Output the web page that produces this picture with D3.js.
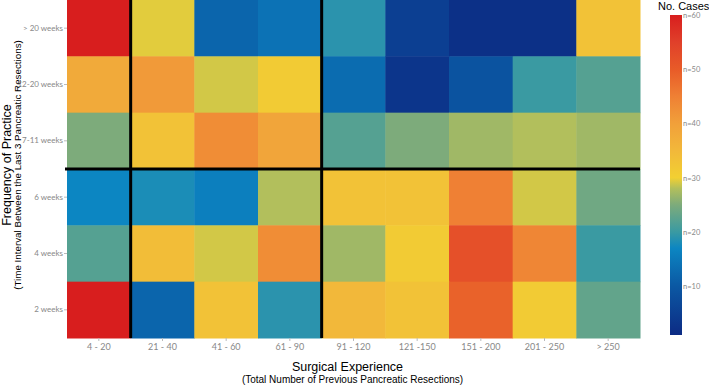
<!DOCTYPE html>
<html>
<head>
<meta charset="utf-8">
<script src="https://cdn.jsdelivr.net/npm/d3@7"></script>
<style>
  body { margin: 0; background: #fff; }
  svg { display: block; font-family: "Liberation Sans", Arial, sans-serif; }
</style>
</head>
<body>
<div id="heat-chart"></div>
<script>
// categories
const experience = ['4 - 20','21 - 40','41 - 60','61 - 90','91 - 120','121 -150','151 - 200','201 - 250','> 250'];
const frequency = ['> 20 weeks','12-20 weeks','7-11 weeks','6 weeks','4 weeks','2 weeks'];

// no. cases, one row per frequency (top to bottom)
const cases = [
    [60, 29.5, 12, 14, 19, 5, 2, 2, 33],
    [38, 41, 29, 31, 13, 3, 9, 20, 22],
    [25, 33, 43, 39, 22, 25, 27, 28, 27],
    [17, 18, 16, 28, 33, 33, 45, 29, 24],
    [22, 34, 29, 43, 27, 31, 52, 44, 20],
    [60, 12, 33, 19, 35, 33, 49, 31, 23]
];

const legendTicks = [10, 20, 30, 40, 50, 60];
const colorStops = [1, 10, 17, 20, 25, 28, 30, 35, 40, 45, 50, 55, 60];
const colorRange = ['#0c2b84','#0b58a3','#0c86c2','#3a9aa2','#7dab7b','#b2bf5c','#f2d032','#f2b83a','#f1a03a','#ef8034','#e85b28','#e0402a','#d81e1e'];

drawHeat();

function drawHeat() {
    const width = 709;
    const height = 386;
    const margin = {top: 0, right: 69, bottom: 48, left: 67};

    const svg = d3.select('#heat-chart')
        .append('svg')
            .attr('width', width)
            .attr('height', height);

    // scales
    const x = d3.scaleBand()
        .domain(experience)
        .range([margin.left, width - margin.right]);
    const y = d3.scaleBand()
        .domain(frequency)
        .range([margin.top, height - margin.bottom]);
    const color = d3.scaleLinear()
        .domain(colorStops)
        .range(colorRange)
        .clamp(true);

    // cells
    const cells = [];
    cases.forEach((row, i) => {
        row.forEach((v, j) => {
            cells.push({f: frequency[i], e: experience[j], v: v});
        });
    });

    svg.append('g')
        .selectAll('rect')
        .data(cells)
        .join('rect')
            .attr('x', d => x(d.e))
            .attr('y', d => y(d.f))
            .attr('width', x.bandwidth() + 0.5)
            .attr('height', y.bandwidth() + 0.5)
            .attr('fill', d => color(d.v));

    // titles
    const plotMidX = (x.range()[0] + x.range()[1]) / 2;
    const plotMidY = (y.range()[0] + y.range()[1]) / 2;
    svg.append('text')
        .attr('x', plotMidX - 6)
        .attr('y', 371)
        .attr('text-anchor', 'middle')
        .style('font-size', '12.5px')
        .text('Surgical Experience');
    svg.append('text')
        .attr('x', plotMidX - 1)
        .attr('y', 383)
        .attr('text-anchor', 'middle')
        .style('font-size', '10px')
        .text('(Total Number of Previous Pancreatic Resections)');
    svg.append('text')
        .attr('transform', `translate(11, ${plotMidY - 4}) rotate(-90)`)
        .attr('text-anchor', 'middle')
        .style('font-size', '12.5px')
        .text('Frequency of Practice');
    svg.append('text')
        .attr('transform', `translate(20.5, ${plotMidY - 4}) rotate(-90)`)
        .attr('text-anchor', 'middle')
        .style('font-size', '9.8px')
        .text('(Time Interval Between the Last 3 Pancreatic Resections)');

    // axes
    const xx = g =>
        g
            .attr('transform', `translate(0, ${height - margin.bottom})`)
            .call(d3.axisBottom(x).tickSize(3).tickPadding(3))
            .call(g => g.select('.domain').remove())
            .call(g => g.selectAll('.tick line').attr('stroke', '#bbb'))
            .call(g => g.selectAll('.tick text')
                .attr('fill', '#888')
                .style('font-family', 'Lato, sans-serif')
                .style('font-size', '9px'));
    const yx = g =>
        g
            .attr('transform', `translate(${margin.left}, 0)`)
            .call(d3.axisLeft(y).tickSize(3).tickPadding(1))
            .call(g => g.select('.domain').remove())
            .call(g => g.selectAll('.tick line').attr('stroke', '#bbb'))
            .call(g => g.selectAll('.tick text')
                .attr('fill', '#888')
                .style('font-family', 'Lato, sans-serif')
                .style('font-size', '8px'));

    svg.append('g').call(xx);
    svg.append('g').call(yx);

    // divider lines
    const vLines = ['21 - 40', '91 - 120'];
    svg.append('g')
        .selectAll('line')
        .data(vLines)
        .join('line')
            .attr('x1', d => x(d))
            .attr('x2', d => x(d))
            .attr('y1', y.range()[0])
            .attr('y2', y.range()[1])
            .attr('stroke', '#000')
            .attr('stroke-width', 3);
    svg.append('line')
        .attr('x1', x.range()[0] - 2)
        .attr('x2', x.range()[1])
        .attr('y1', y('6 weeks'))
        .attr('y2', y('6 weeks'))
        .attr('stroke', '#000')
        .attr('stroke-width', 3);

    // legend
    const lx = 670, lw = 12;
    const ly = d3.scaleLinear()
        .domain([1, 60])
        .range([335, 15]);

    const grad = svg.append('defs')
        .append('linearGradient')
            .attr('id', 'legend-grad')
            .attr('x1', 0).attr('x2', 0)
            .attr('y1', 1).attr('y2', 0);
    grad.selectAll('stop')
        .data(colorStops)
        .join('stop')
            .attr('offset', d => (d - 1) / 59)
            .attr('stop-color', d => color(d));

    svg.append('rect')
        .attr('x', lx)
        .attr('y', ly(60))
        .attr('width', lw)
        .attr('height', ly(1) - ly(60))
        .attr('fill', 'url(#legend-grad)');

    svg.append('g')
        .attr('transform', `translate(${lx + lw}, 0)`)
        .call(d3.axisRight(ly).tickValues(legendTicks).tickSize(0).tickPadding(1)
            .tickFormat(d => `n=${d}`))
        .call(g => g.select('.domain').remove())
        .call(g => g.selectAll('.tick text')
            .attr('fill', '#888')
            .style('font-family', 'Lato, sans-serif')
            .style('font-size', '7.5px'));

    svg.append('text')
        .attr('x', 658)
        .attr('y', 10)
        .style('font-size', '11px')
        .text('No. Cases');
}
</script>
</body>
</html>
